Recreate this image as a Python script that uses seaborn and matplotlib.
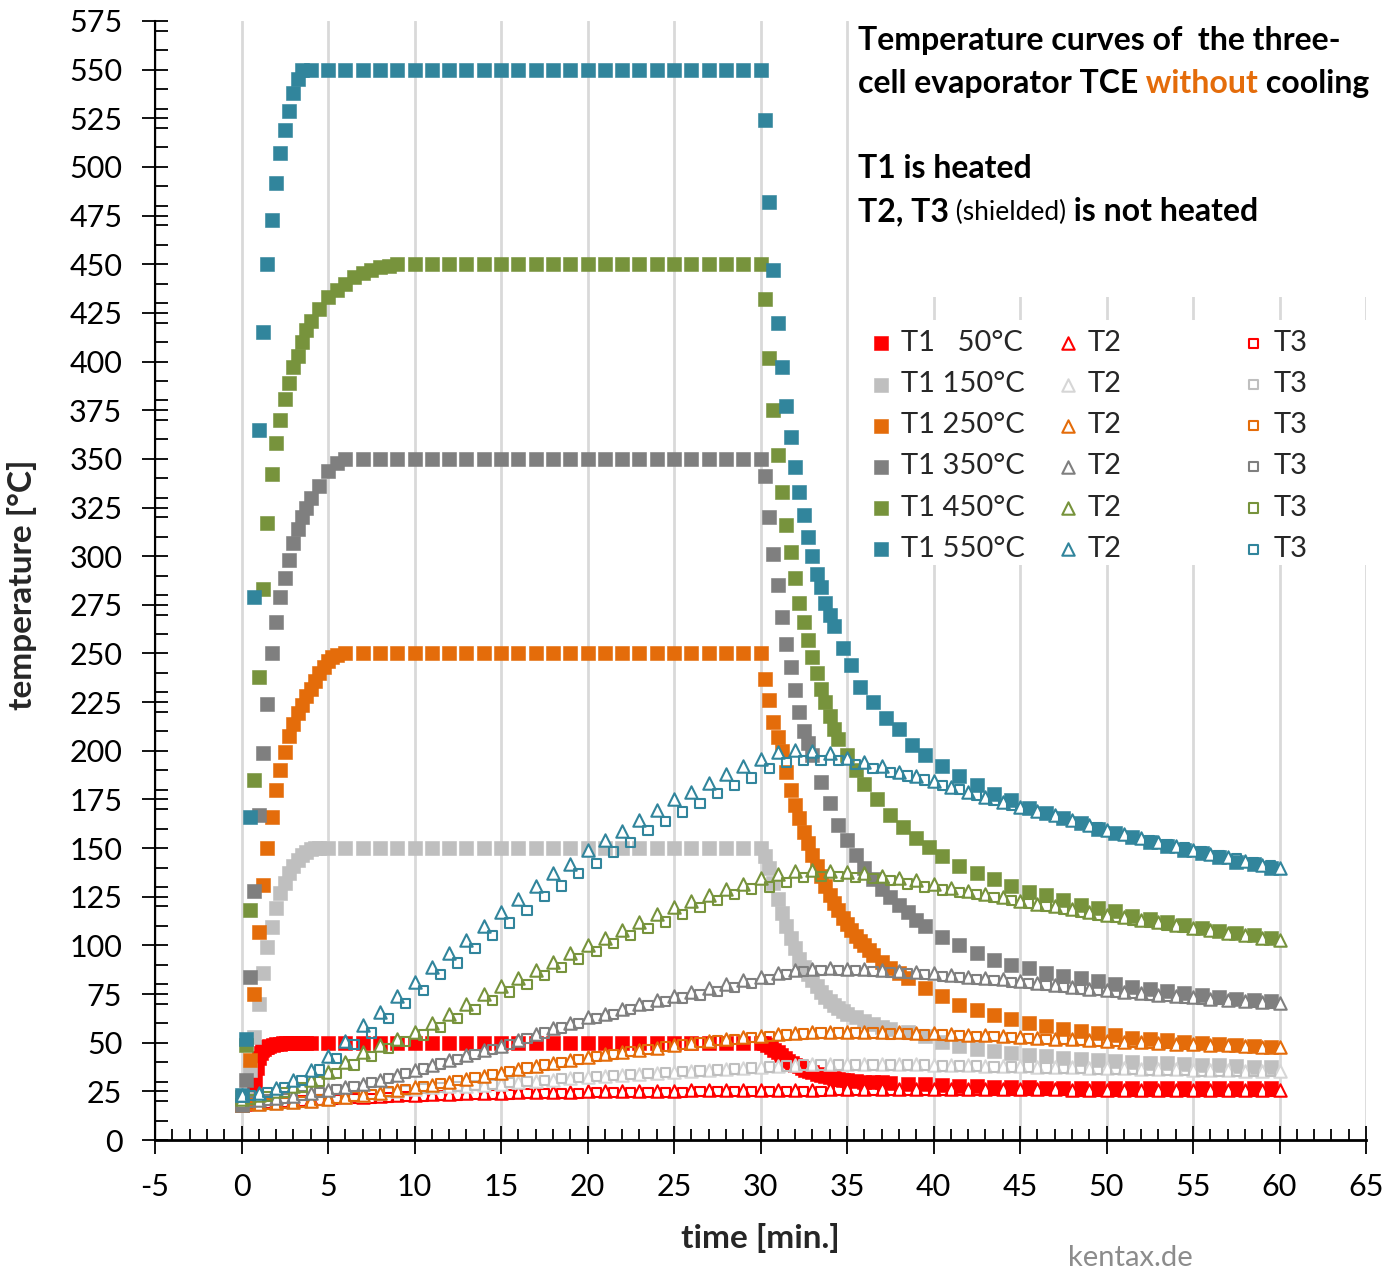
import matplotlib
matplotlib.use("Agg")
import matplotlib.pyplot as plt
import seaborn as sns
from matplotlib.patches import Rectangle
from matplotlib.ticker import MultipleLocator

sns.set_style("white")
plt.rcParams["font.family"] = ["Lato", "DejaVu Sans"]
plt.rcParams["axes.unicode_minus"] = False

W, H = 1391, 1270

# ---------------------------------------------------------------- sampling grids
t2_time = list(range(0, 61))                       # T2 logged at whole minutes
t3_time = [m + 0.5 for m in range(0, 60)]          # T3 logged half a minute later
tail_time = [m + 0.5 for m in range(40, 60)]       # T1 cooling tail, 40.5 ... 59.5

# ---------------------------------------------------------------- T1 (heated cell)
t1_50_heat_time = [0, 0.25, 0.5, 0.6, 0.7, 0.8, 0.9, 1.0, 1.1, 1.2, 1.3, 1.4, 1.5, 1.6, 1.8,
                   2.0, 2.2, 2.4, 2.6, 2.8, 3.0, 3.25, 3.5, 3.75,
                   4, 5, 6, 7, 8, 9, 10, 11, 12, 13, 14, 15, 16, 17, 18, 19, 20, 21, 22, 23, 24,
                   25, 26, 27, 28, 29, 30]
t1_50_heat_temp = [18, 18.5, 19.5, 21, 25, 31, 37, 42, 44.5, 46, 47, 47.6, 48, 48.4, 48.9,
                   49.2, 49.5, 49.7, 49.8, 49.9, 50, 50, 50, 50,
                   50, 50, 50, 50, 50, 50, 50, 50, 50, 50, 50, 50, 50, 50, 50, 50, 50, 50, 50, 50, 50,
                   50, 50, 50, 50, 50, 50]
t1_50_cool_time = [30.2, 30.4, 30.6, 30.8, 31.0, 31.2, 31.4, 31.6, 31.8, 32.0, 32.2, 32.4, 32.6,
                   32.8, 33.0, 33.25, 33.5, 33.75, 34.0, 34.25, 34.5, 34.75, 35.0, 35.5, 36.0,
                   36.5, 37.0, 37.5, 38.5, 39.5]
t1_50_cool_temp = [49.8, 49, 47.8, 46.5, 45, 43.5, 42, 40.8, 39.7, 38.7, 37.8, 37, 36.2,
                   35.5, 34.8, 34, 33.3, 32.7, 32.2, 31.8, 31.4, 31, 30.7, 30.3, 30,
                   29.8, 29.6, 29.4, 29, 28.6]
t1_50_tail_temp = [28.2, 27.8, 27.5, 27.3, 27.1, 27, 26.9, 26.8, 26.8, 26.7,
                   26.7, 26.6, 26.6, 26.6, 26.5, 26.5, 26.5, 26.5, 26.5, 26.5]

t1_150_heat_time = [0, 0.25, 0.5, 0.75, 1.0, 1.25, 1.5, 1.75, 2.0, 2.25, 2.5, 2.75, 3.0, 3.25,
                    3.5, 3.75, 4.0, 4.25, 4.5,
                    5, 6, 7, 8, 9, 10, 11, 12, 13, 14, 15, 16, 17, 18, 19, 20, 21, 22, 23, 24,
                    25, 26, 27, 28, 29, 30]
t1_150_heat_temp = [18, 22, 36, 53, 70, 86, 99, 109.5, 119, 127, 132, 137, 141, 144,
                    146.5, 148, 149.5, 150, 150,
                    150, 150, 150, 150, 150, 150, 150, 150, 150, 150, 150, 150, 150, 150, 150,
                    150, 150, 150, 150, 150, 150, 150, 150, 150, 150, 150]
t1_150_cool_time = [30.25, 30.5, 30.75, 31.0, 31.25, 31.5, 31.75, 32.0, 32.25, 32.5, 32.75,
                    33.0, 33.25, 33.5, 33.75, 34.0, 34.25, 34.5, 34.75, 35.0, 35.5, 36.0,
                    36.5, 37.0, 37.5, 38.5, 39.5]
t1_150_cool_temp = [146, 140, 132, 124, 116.5, 110, 104, 98.5, 93, 89, 85.5,
                    82, 79, 76, 73.5, 71.5, 69.5, 68, 66.5, 65, 63, 61,
                    59.5, 58, 57, 55.5, 53.5]
t1_150_tail_temp = [50.5, 48.5, 47, 45.5, 44.5, 43.5, 43, 42, 41.5, 41,
                    40.5, 40, 39.5, 39.5, 39, 38.5, 38.5, 38, 37.5, 37.5]

t1_250_heat_time = [0, 0.25, 0.5, 0.75, 1.0, 1.25, 1.5, 1.75, 2.0, 2.25, 2.5, 2.75, 3.0, 3.25,
                    3.5, 3.75, 4.0, 4.25, 4.5, 4.75, 5.0, 5.25, 5.5,
                    6, 7, 8, 9, 10, 11, 12, 13, 14, 15, 16, 17, 18, 19, 20, 21, 22, 23, 24,
                    25, 26, 27, 28, 29, 30]
t1_250_heat_temp = [18, 20, 41, 75, 107, 131, 150, 166, 180, 190, 199.5, 207.5, 214, 219.5,
                    223.5, 228, 232, 236, 240, 243, 246, 248, 249,
                    250, 250, 250, 250, 250, 250, 250, 250, 250, 250, 250, 250, 250, 250, 250,
                    250, 250, 250, 250, 250, 250, 250, 250, 250, 250]
t1_250_cool_time = [30.25, 30.5, 30.75, 31.0, 31.25, 31.5, 31.75, 32.0, 32.25, 32.5, 32.75,
                    33.0, 33.25, 33.5, 33.75, 34.0, 34.25, 34.5, 34.75, 35.0, 35.25, 35.5,
                    35.75, 36.0, 36.25, 36.5, 37.0, 37.5, 38.0, 38.5, 39.5]
t1_250_cool_temp = [237, 226, 215, 207, 200, 189, 180, 172, 165.5, 158.5, 152.5,
                    146.5, 141, 135.5, 130.5, 126, 122, 118, 114, 111, 108, 105,
                    102.5, 100, 97.5, 95, 91.5, 88.5, 86, 83, 78]
t1_250_tail_temp = [74, 69.5, 67, 64, 62, 60, 58.5, 57, 56, 55,
                    54, 52.5, 52, 51.5, 50.5, 50, 49.5, 49, 48.5, 48]

t1_350_heat_time = [0, 0.25, 0.5, 0.75, 1.0, 1.25, 1.5, 1.75, 2.0, 2.25, 2.5, 2.75, 3.0, 3.25,
                    3.5, 3.75, 4.0, 4.5, 5.0, 5.5,
                    6, 7, 8, 9, 10, 11, 12, 13, 14, 15, 16, 17, 18, 19, 20, 21, 22, 23, 24,
                    25, 26, 27, 28, 29, 30]
t1_350_heat_temp = [18, 31, 84, 128, 167, 199, 224, 250, 266, 279, 289, 298, 307, 314,
                    320, 325, 330, 336, 344, 348,
                    350, 350, 350, 350, 350, 350, 350, 350, 350, 350, 350, 350, 350, 350, 350,
                    350, 350, 350, 350, 350, 350, 350, 350, 350, 350]
t1_350_cool_time = [30.25, 30.5, 30.75, 31.0, 31.25, 31.5, 31.75, 32.0, 32.25, 32.5, 32.75,
                    33.0, 33.5, 34.0, 34.5, 35.0, 35.5, 36.0, 36.5, 37.0, 37.5, 38.0, 38.5,
                    39.0, 39.5]
t1_350_cool_temp = [341, 320, 301, 285, 269, 255, 243, 231, 220, 210, 204,
                    198, 184, 173, 162, 154, 146.5, 140, 134, 129, 125, 121, 117,
                    113, 110]
t1_350_tail_temp = [104.5, 100, 96, 92.5, 90, 88.5, 86, 84.5, 83, 81.5,
                    80, 78.5, 77.5, 76.5, 75.5, 74.5, 73.5, 72.5, 72, 71.5]

t1_450_heat_time = [0, 0.25, 0.5, 0.75, 1.0, 1.25, 1.5, 1.75, 2.0, 2.25, 2.5, 2.75, 3.0, 3.25,
                    3.5, 3.75, 4.0, 4.5, 5.0, 5.5, 6.0, 6.5, 7.0, 7.5, 8.0, 8.5, 9,
                    10, 11, 12, 13, 14, 15, 16, 17, 18, 19, 20, 21, 22, 23, 24,
                    25, 26, 27, 28, 29, 30]
t1_450_heat_temp = [22, 49, 118, 185, 238, 283, 317, 342, 358, 370, 381, 389, 397, 403,
                    410, 416, 421, 427, 433, 437, 440, 443.5, 445.5, 447, 448.5, 449, 450,
                    450, 450, 450, 450, 450, 450, 450, 450, 450, 450, 450, 450, 450, 450, 450,
                    450, 450, 450, 450, 450, 450]
t1_450_cool_time = [30.25, 30.5, 30.75, 31.0, 31.25, 31.5, 31.75, 32.0, 32.25, 32.5, 32.75,
                    33.0, 33.25, 33.5, 33.75, 34.0, 34.25, 34.5, 35.0, 35.5, 36.0, 36.75,
                    37.5, 38.25, 39.0, 39.75]
t1_450_cool_temp = [432, 402, 375, 352, 333, 316, 302, 289, 276, 266, 257,
                    248, 240, 232, 225, 218, 211, 206, 198, 190, 183, 175,
                    167, 161, 155, 150.5]
t1_450_tail_temp = [146, 141, 137, 134, 130.5, 127.5, 126, 123.5, 121, 119,
                    117.5, 115, 113.5, 112, 110.5, 109, 107.5, 106.5, 105.5, 104]

t1_550_heat_time = [0, 0.25, 0.5, 0.75, 1.0, 1.25, 1.5, 1.75, 2.0, 2.25, 2.5, 2.75, 3.0, 3.25,
                    3.5, 4, 5, 6, 7, 8, 9, 10, 11, 12, 13, 14, 15, 16, 17, 18, 19, 20, 21, 22,
                    23, 24, 25, 26, 27, 28, 29, 30]
t1_550_heat_temp = [23, 52, 166, 279, 365, 415, 450, 473, 492, 507, 519, 529, 538, 545,
                    550, 550, 550, 550, 550, 550, 550, 550, 550, 550, 550, 550, 550, 550, 550,
                    550, 550, 550, 550, 550, 550, 550, 550, 550, 550, 550, 550, 550]
t1_550_cool_time = [30.25, 30.5, 30.75, 31.0, 31.25, 31.5, 31.75, 32.0, 32.25, 32.5, 32.75,
                    33.0, 33.25, 33.5, 33.75, 34.0, 34.25, 34.75, 35.25, 35.75, 36.5, 37.25,
                    38.0, 38.75, 39.5]
t1_550_cool_temp = [524, 482, 447, 420, 397, 377, 361, 346, 333, 321, 310,
                    300, 291, 284, 276, 270, 264, 253, 244, 233, 225, 217,
                    211, 203, 198]
t1_550_tail_temp = [192, 187, 182.5, 178, 174.5, 170.5, 168, 165.5, 163, 160,
                    158, 155.5, 153, 151, 149, 147.5, 145.5, 143, 142, 140]

# ---------------------------------------------------------------- T2 (not heated), 0 ... 60 min
t2_50 = [19, 19.5, 20, 20.5, 21, 21.5, 22, 22, 22.5, 23,
         23, 23.5, 23.5, 24, 24, 24, 24.5, 24.5, 24.5, 24.5,
         25, 25, 25, 25, 25, 25, 25.5, 25.5, 25.5, 25.5,
         25.5, 25.5, 25.5, 25.5, 26, 26, 26, 26, 26, 26,
         26, 26, 26, 26, 26, 26, 26, 26, 25.5, 25.5,
         25.5, 25.5, 25.5, 25.5, 25.5, 25.5, 25.5, 25.5, 25.5, 25.5,
         25.5]
t2_150 = [18, 18.5, 19, 19.5, 20, 21, 22, 23, 24, 25,
          26, 27, 27.5, 28, 28.5, 29, 30, 30.5, 31, 32,
          32.5, 33, 33.5, 34, 34.5, 35, 35.5, 36, 36.5, 37,
          37.5, 38, 38.5, 39, 39, 39, 39, 39, 39, 39,
          38.5, 38.5, 38.5, 38, 38, 38, 37.5, 37.5, 37.5, 37,
          37, 37, 36.5, 36.5, 36.5, 36, 36, 36, 35.5, 35.5,
          35.5]
t2_250 = [18, 18.5, 19, 19.5, 20, 21, 22, 23, 24.3, 25.5,
          27, 28.5, 30, 31.5, 33, 34.5, 36.5, 38, 39.5, 41,
          42.5, 44, 45, 46.5, 47.5, 49, 50, 51, 52, 53,
          53.5, 54.5, 55, 55.5, 55.5, 55.5, 55.5, 55.5, 55.5, 55,
          55, 54.5, 54, 54, 53.5, 53, 52.5, 52, 52, 51.5,
          51, 50.5, 50.5, 50, 49.5, 49.5, 49, 49, 48.5, 48,
          48]
t2_350 = [20, 20.5, 21.5, 22.5, 24, 25.5, 27, 29, 31, 33.5,
          36, 38.5, 41, 43.5, 46, 48.5, 51.5, 54.5, 57.5, 60,
          63, 65, 67.5, 70, 72, 74, 76, 78, 80, 82,
          84, 86, 87.5, 88, 88.5, 88, 88, 87.5, 87, 86.5,
          86, 85, 84, 83.5, 82.5, 81.5, 80.5, 79.5, 78.5, 77.5,
          77, 76, 75.5, 74.5, 74, 73.5, 72.5, 72, 71.5, 71,
          70.5]
t2_450 = [21, 23, 25, 27.5, 31, 35, 40, 45, 49, 52,
          55.5, 60, 65, 70, 75, 79, 83, 87.5, 91.5, 96,
          100, 104, 108, 112, 116, 119.5, 123, 126, 129, 131.5,
          134.5, 136.5, 138, 138.5, 138, 137.5, 137, 135.5, 134.5, 133.5,
          131.5, 129.5, 128, 126.5, 125, 123, 121.5, 120, 118.5, 117,
          115.5, 114.5, 113, 112, 110.5, 109, 108, 106.5, 105.5, 104,
          103]
t2_550 = [23, 24, 26.5, 31, 36, 43, 51, 59, 66, 74,
          81, 89, 96, 103, 110, 117, 124, 130.5, 137, 142,
          149, 154, 159, 164.5, 169.5, 175, 179, 183.5, 188, 192,
          196, 199.5, 200.5, 200, 199, 196.5, 194, 192, 189, 187,
          184.5, 181.5, 179, 176, 173.5, 171, 169, 167, 164.5, 162,
          159.5, 157, 155, 153, 151, 149, 147, 145.5, 143.5, 141.5,
          140]

# ---------------------------------------------------------------- T3 (shielded), 0.5 ... 59.5 min
t3_50 = [18.5, 19, 19.5, 20, 20.5, 21, 21.5, 21.5, 22, 22.5,
         22.5, 23, 23, 23.5, 23.5, 23.5, 24, 24, 24, 24,
         24.5, 24.5, 24.5, 24.5, 24.5, 24.5, 25, 25, 25, 25,
         25, 25, 25, 25, 25.5, 25.5, 25.5, 25.5, 25.5, 25.5,
         25.5, 25.5, 25.5, 25.5, 25.5, 25.5, 25.5, 25.5, 25, 25,
         25, 25, 25, 25, 25, 25, 25, 25, 25, 25]
t3_150 = [18, 18.5, 19, 19.5, 20.5, 21.5, 22.5, 23.5, 24.5, 25.5,
          26.5, 27, 27.5, 28, 28.5, 29.5, 30, 30.5, 31.5, 32,
          32.5, 33, 33.5, 34, 34.5, 35, 35.5, 36, 36.5, 37,
          37.5, 38, 38.5, 38.5, 38.5, 38.5, 38.5, 38.5, 38.5, 38.5,
          38, 38, 38, 37.5, 37.5, 37.5, 37, 37, 37, 36.5,
          36.5, 36.5, 36, 36, 36, 35.5, 35.5, 35.5, 35, 35]
t3_250 = [18, 18.5, 19, 19.5, 20.5, 21.5, 22.5, 23.5, 25, 26,
          27.5, 29, 30.5, 32, 33.5, 35, 37, 38.5, 40, 41.5,
          43, 44, 45.5, 46.5, 48, 49, 50, 51, 51.5, 52.5,
          53, 54, 54.5, 55, 55, 55, 55, 54.5, 54.5, 54,
          54, 53.5, 53, 53, 52.5, 52, 51.5, 51.5, 51, 50.5,
          50.5, 50, 49.5, 49.5, 49, 49, 48.5, 48.5, 48, 47.5]
t3_350 = [19.5, 20.5, 21.5, 23, 24.5, 26, 27.5, 29.5, 31.5, 34,
          36.5, 39, 41.5, 44, 46.5, 49, 52, 55, 57.5, 60,
          62.5, 64.5, 67, 69, 71, 73, 74.5, 76.5, 78.5, 80.5,
          82.5, 85, 86.5, 87, 87, 87, 86.5, 86, 85.5, 85,
          84, 83.5, 82.5, 82, 81, 80.5, 79.5, 78.5, 77.5, 77,
          76, 75.5, 74.5, 74, 73, 72.5, 72, 71.5, 70.5, 70]
t3_450 = [21, 22.5, 24.5, 27, 30, 34, 38.5, 43, 47, 50.5,
          54, 58, 62.5, 67, 71.5, 76, 80, 84.5, 88.5, 93,
          97, 101, 105, 108.5, 112, 116, 119.5, 123, 126, 129,
          130, 132.5, 135, 135.5, 135.5, 135, 134.5, 133.5, 131.5, 130,
          128.5, 127, 126, 124.5, 123, 121.5, 120, 118.5, 117, 115.5,
          114.5, 113, 112, 110.5, 109.5, 108, 107, 105.5, 104.5, 103.5]
t3_550 = [23, 24.5, 27, 30.5, 36, 42, 49, 55, 62.5, 70,
          77, 85, 91, 98.5, 105, 111.5, 118, 125, 130.5, 137,
          142, 148, 153, 159, 163.5, 168.5, 173, 178, 182, 186,
          191, 194, 195, 195, 195, 193, 191, 189, 187, 185,
          182, 180, 177, 174.5, 172, 170, 167.5, 165.5, 163, 160.5,
          158, 156, 154, 152, 150, 148, 146, 144.5, 142.5, 141]

# ---------------------------------------------------------------- series meta
levels = ["50", "150", "250", "350", "450", "550"]
t1_labels = ["T1   50°C", "T1 150°C", "T1 250°C", "T1 350°C", "T1 450°C", "T1 550°C"]
t1_colors = ["#FF0000", "#BFBFBF", "#E46C0A", "#7F7F7F", "#77933C", "#31859C"]
t2_colors = ["#FF0000", "#D6D6D6", "#E46C0A", "#7F7F7F", "#77933C", "#31859C"]
t3_colors = ["#FF0000", "#BFBFBF", "#E46C0A", "#7F7F7F", "#77933C", "#31859C"]

t1_series = {
    "50": (t1_50_heat_time + t1_50_cool_time + tail_time,
           t1_50_heat_temp + t1_50_cool_temp + t1_50_tail_temp),
    "150": (t1_150_heat_time + t1_150_cool_time + tail_time,
            t1_150_heat_temp + t1_150_cool_temp + t1_150_tail_temp),
    "250": (t1_250_heat_time + t1_250_cool_time + tail_time,
            t1_250_heat_temp + t1_250_cool_temp + t1_250_tail_temp),
    "350": (t1_350_heat_time + t1_350_cool_time + tail_time,
            t1_350_heat_temp + t1_350_cool_temp + t1_350_tail_temp),
    "450": (t1_450_heat_time + t1_450_cool_time + tail_time,
            t1_450_heat_temp + t1_450_cool_temp + t1_450_tail_temp),
    "550": (t1_550_heat_time + t1_550_cool_time + tail_time,
            t1_550_heat_temp + t1_550_cool_temp + t1_550_tail_temp),
}
t2_series = {"50": t2_50, "150": t2_150, "250": t2_250, "350": t2_350, "450": t2_450, "550": t2_550}
t3_series = {"50": t3_50, "150": t3_150, "250": t3_250, "350": t3_350, "450": t3_450, "550": t3_550}

# ---------------------------------------------------------------- figure
fig = plt.figure(figsize=(W / 100, H / 100), dpi=100)
fig.patch.set_facecolor("white")
ax = fig.add_axes([155 / W, 1 - 1140 / H, (1366 - 155) / W, (1140 - 21) / H])


def fx(px):
    return px / W


def fy(py):
    return 1 - py / H


h_t1, h_t2, h_t3 = [], [], []
for i, lev in enumerate(levels):
    x1, y1 = t1_series[lev]
    sns.scatterplot(x=x1, y=y1, ax=ax, marker="s", s=90, color=t1_colors[i],
                    edgecolor=t1_colors[i], linewidth=0.4, legend=False, zorder=2)
    h_t1.append(ax.collections[-1])
    sns.scatterplot(x=t2_time, y=t2_series[lev], ax=ax, marker="^", s=80,
                    facecolor="white", edgecolor=t2_colors[i], linewidth=1.5,
                    legend=False, zorder=2)
    h_t2.append(ax.collections[-1])
    sns.scatterplot(x=t3_time, y=t3_series[lev], ax=ax, marker="s", s=44,
                    facecolor="none", edgecolor=t3_colors[i], linewidth=1.5,
                    legend=False, zorder=2)
    h_t3.append(ax.collections[-1])

# axes, ticks, grid
ax.set_xlim(-5, 65)
ax.set_ylim(0, 575)
ax.xaxis.set_major_locator(MultipleLocator(5))
ax.xaxis.set_minor_locator(MultipleLocator(1))
ax.yaxis.set_major_locator(MultipleLocator(25))
ax.yaxis.set_minor_locator(MultipleLocator(10))
ax.grid(False)
ax.xaxis.grid(True, which="major", color="#D9D9D9", linewidth=2)
ax.set_axisbelow(True)
for side in ("top", "right"):
    ax.spines[side].set_visible(False)
ax.spines["left"].set_color("black")
ax.spines["left"].set_linewidth(1.5)
ax.spines["bottom"].set_color("black")
ax.spines["bottom"].set_linewidth(2)
ax.tick_params(which="both", bottom=True, left=True, top=False, right=False)
ax.tick_params(axis="y", which="major", direction="inout", length=19, width=1.3,
               labelsize=22, pad=14, colors="black")
ax.tick_params(axis="y", which="minor", direction="in", length=9, width=1.3, colors="black")
ax.tick_params(axis="x", which="major", direction="inout", length=20, width=1.3,
               labelsize=22, pad=14, colors="black")
ax.tick_params(axis="x", which="minor", direction="in", length=8, width=1.3, colors="black")
ax.set_xlabel("")
ax.set_ylabel("")

# white panels behind the note and the legend
ax.add_patch(Rectangle((35.1, 433), 31, 150, facecolor="white", edgecolor="none", zorder=0.8))
ax.add_patch(Rectangle((35.1, 295.5), 31, 126, facecolor="white", edgecolor="none", zorder=0.8))

# axis titles
fig.text(fx(22), fy(585), "temperature [°C]", rotation=90, ha="center", va="center",
         fontsize=24, fontweight="bold")
fig.text(fx(760), fy(1238), "time [min.]", ha="center", va="center",
         fontsize=24, fontweight="bold")
fig.text(fx(1130), fy(1258), "kentax.de", ha="center", va="center", fontsize=21,
         color="#8C8C8C")

# note in the upper right
note_kw = dict(fontsize=23, fontweight="bold", color="black")
fig.text(fx(858), fy(50), "Temperature curves of  the three-", ha="left", va="baseline", **note_kw)
l2 = fig.text(fx(858), fy(93), "cell evaporator TCE", ha="left", va="baseline", **note_kw)
l2b = ax.annotate(" without", xy=(1, 0), xycoords=l2, va="bottom", ha="left",
                  fontsize=23, fontweight="bold", color="#E46C0A")
ax.annotate(" cooling", xy=(1, 0), xycoords=l2b, va="bottom", ha="left", **note_kw)
fig.text(fx(858), fy(178), "T1 is heated", ha="left", va="baseline", **note_kw)
l4 = fig.text(fx(858), fy(221), "T2, T3", ha="left", va="baseline", **note_kw)
l4b = ax.annotate(" (shielded)", xy=(1, 0), xycoords=l4, va="bottom", ha="left",
                  xytext=(0, 0.8), textcoords="offset points", fontsize=19, color="black")
ax.annotate(" is not heated", xy=(1, 0), xycoords=l4b, va="bottom", ha="left",
            xytext=(0, -0.8), textcoords="offset points", **note_kw)

# legend in three columns
leg_kw = dict(frameon=False, fontsize=21, handlelength=0.8, handletextpad=0.3,
              labelspacing=0.52, borderpad=0, borderaxespad=0, loc="upper left",
              scatterpoints=1, bbox_transform=fig.transFigure)
leg1 = ax.legend(h_t1, t1_labels, bbox_to_anchor=(fx(869), fy(330)), **leg_kw)
ax.add_artist(leg1)
leg2 = ax.legend(h_t2, ["T2"] * 6, bbox_to_anchor=(fx(1056), fy(330)), **leg_kw)
ax.add_artist(leg2)
ax.legend(h_t3, ["T3"] * 6, bbox_to_anchor=(fx(1242), fy(330)), **leg_kw)

fig.savefig("out.png", dpi=100, facecolor="white")
